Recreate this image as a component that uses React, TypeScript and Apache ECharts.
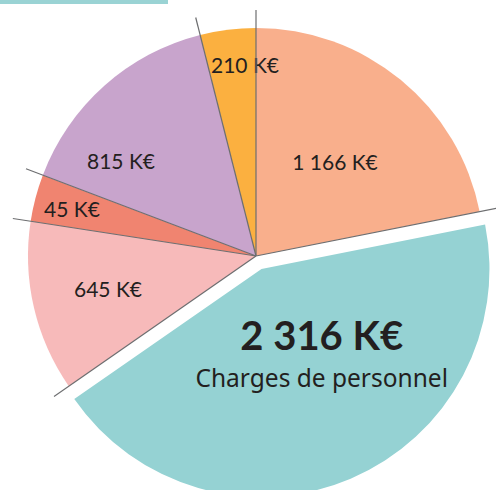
import React, { useEffect, useRef } from "react";
import * as echarts from "echarts";

const categories = ["Poste 1", "Charges de personnel", "Poste 3", "Poste 4", "Poste 5", "Poste 6"];
const values = [1166, 2316, 645, 45, 815, 210];
const showName = [false, true, false, false, false, false];
const colors = ["#F9AF8C", "#95D2D3", "#F7BABA", "#F08470", "#C8A4CC", "#FBB040"];
const labelCenters: ([number, number] | null)[] = [
  [335, 161],
  null,
  [108, 288],
  [72, 208],
  [121, 160],
  [245, 64],
];

const fmt = (v: number) => String(v).replace(/\B(?=(\d{3})+(?!\d))/g, " ") + " K€";

export default function App() {
  const ref = useRef<HTMLDivElement>(null);
  useEffect(() => {
    if (!ref.current) return;
    const chart = echarts.init(ref.current, null, { renderer: "svg" });
    const option: any = {
      animation: false,
      series: [
        {
          type: "pie",
          center: [256, 256],
          radius: [0, 228],
          startAngle: 90,
          clockwise: true,
          minAngle: 12,
          selectedMode: "single",
          selectedOffset: 14,
          silent: true,
          emphasis: { disabled: true },
          itemStyle: { borderWidth: 0 },
          labelLine: { show: false },
          label: {
            show: true,
            position: "inside",
            color: "#231F20",
            fontFamily: "Lato",
            fontSize: 21,
            formatter: (p: any) =>
              showName[p.dataIndex]
                ? "{v|" + fmt(p.value) + "}\n{n|" + p.name + "}"
                : fmt(p.value),
            rich: {
              v: { fontFamily: "Lato", fontSize: 40, fontWeight: "bold", color: "#231F20", lineHeight: 42 },
              n: { fontFamily: "Noto Sans", fontSize: 24.5, color: "#231F20", lineHeight: 42 },
            },
          },
          labelLayout: (p: any) => {
            const c = labelCenters[p.dataIndex];
            if (!c) return {};
            return { x: c[0], y: c[1], align: "center", verticalAlign: "middle" };
          },
          data: values.map((v, i) => ({
            name: categories[i],
            value: v,
            selected: showName[i],
            itemStyle: { color: colors[i] },
            label: showName[i] ? { padding: [0, 0, 41, 29] } : undefined,
          })),
        },
      ],
    };
    chart.setOption(option);
    const data = (chart as any).getModel().getSeriesByIndex(0).getData();
    const R = 246;
    const graphics: any[] = [
      { type: "rect", left: 0, top: 0, shape: { width: 168, height: 4 }, style: { fill: "#9AD3D4" }, z: 100 },
    ];
    for (let i = 0; i < values.length; i++) {
      const l = data.getItemLayout(i);
      graphics.push({
        type: "line",
        z: 100,
        shape: {
          x1: l.cx,
          y1: l.cy,
          x2: l.cx + R * Math.cos(l.startAngle),
          y2: l.cy + R * Math.sin(l.startAngle),
        },
        style: { stroke: "#6D6E70", lineWidth: 1.2 },
      });
    }
    chart.setOption({ graphic: graphics });
    return () => chart.dispose();
  }, []);
  return (
    <div
      ref={ref}
      style={{ position: "fixed", left: 0, top: 0, width: 496, height: 490, background: "#fff" }}
    />
  );
}
